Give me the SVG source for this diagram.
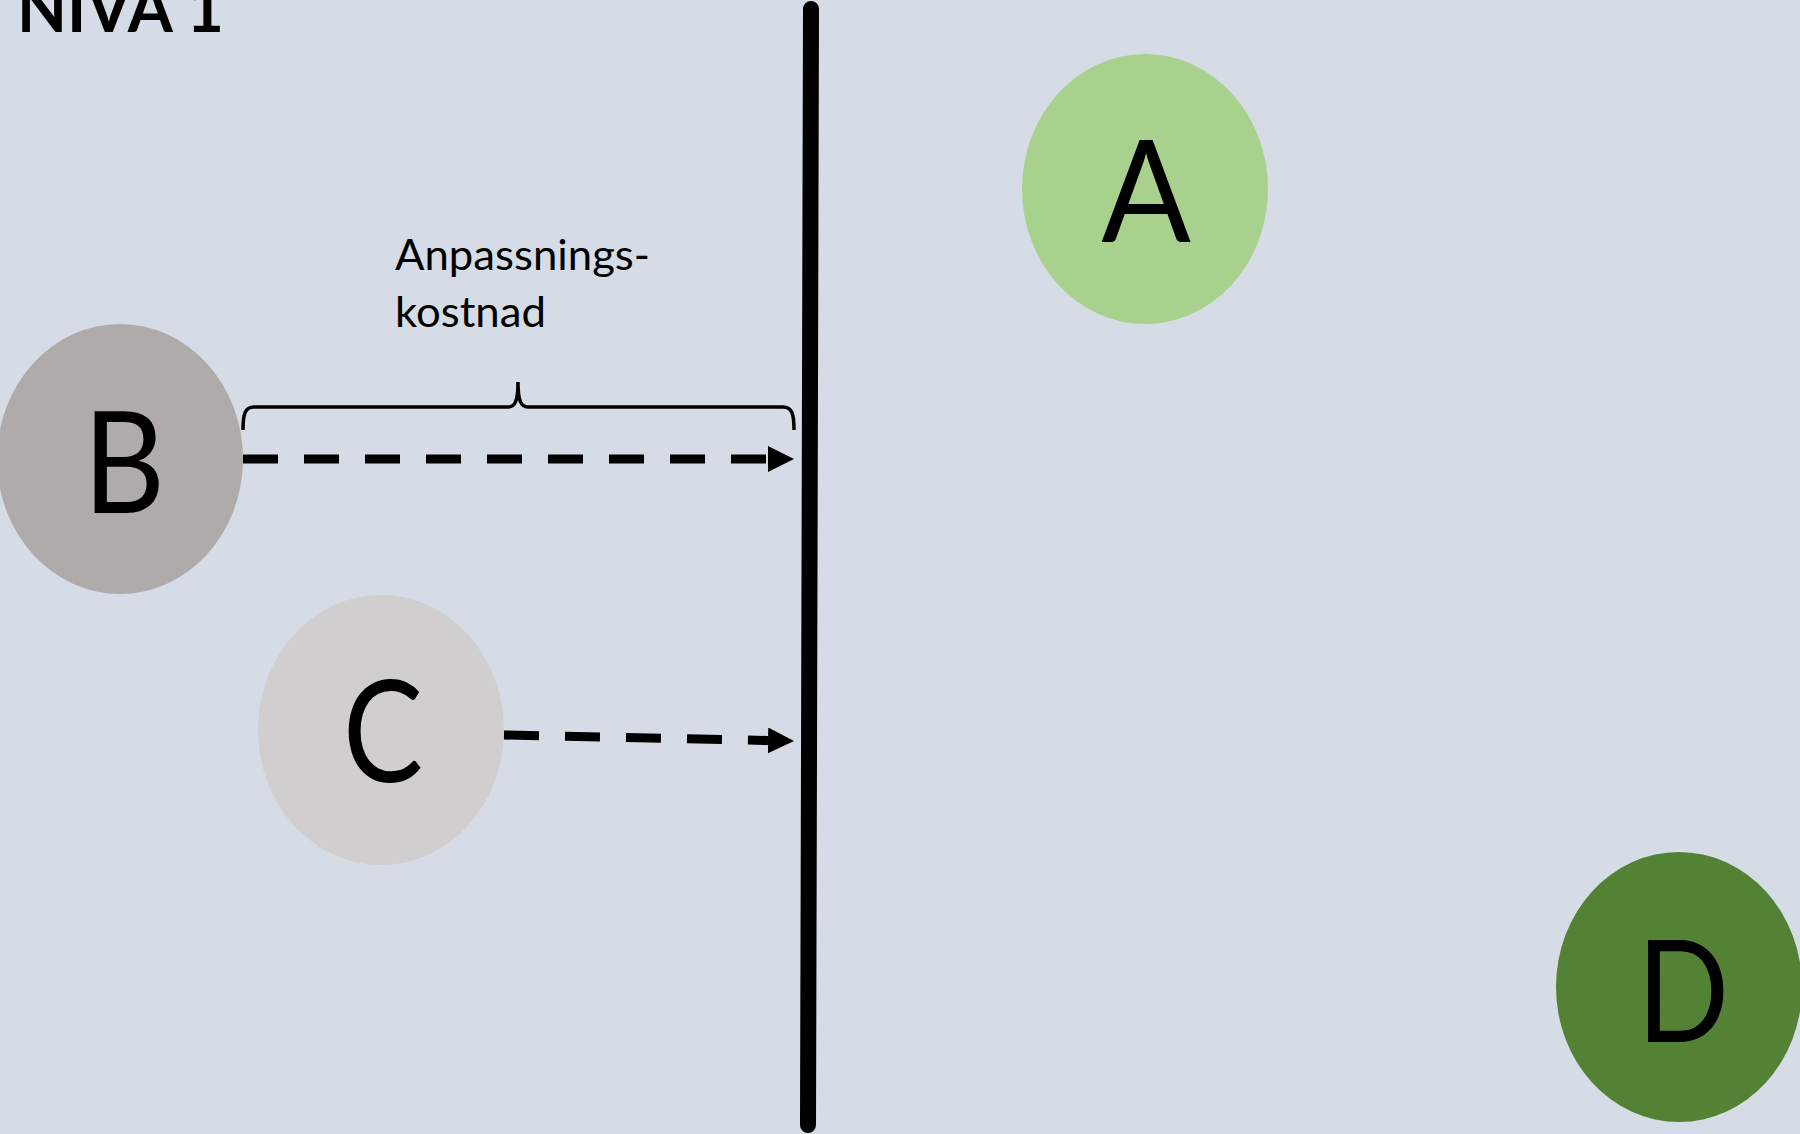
<svg xmlns="http://www.w3.org/2000/svg" width="1800" height="1134" viewBox="0 0 1800 1134">
<style>
.lbl{font-family:Lato,"Liberation Sans",sans-serif;fill:#000}
.big{font-size:141px;text-anchor:middle}
.dash{stroke:#000;stroke-width:9;fill:none;stroke-dasharray:35 26}
</style>
<defs>
<marker id="ah" markerUnits="userSpaceOnUse" markerWidth="26" markerHeight="26" refX="0" refY="13" orient="auto" viewBox="0 0 26 26">
<path d="M0,0 L26,13 L0,26 z" fill="#000"/>
</marker>
</defs>
<rect width="1800" height="1134" fill="#D6DCE5"/>
<text class="lbl" x="17" y="32" font-size="66" font-weight="bold" textLength="207" lengthAdjust="spacingAndGlyphs">NIVA 1</text>
<line id="barrier" x1="811" y1="9" x2="808" y2="1125" stroke="#000" stroke-width="16" stroke-linecap="round"/>
<g id="nodeA">
<ellipse cx="1145" cy="189" rx="123" ry="135" fill="#A9D18E"/>
<text class="lbl big" transform="translate(1146,242) scale(0.94,1)">A</text>
</g>
<g id="nodeB">
<ellipse cx="120" cy="459" rx="123" ry="135" fill="#AFABAB"/>
<text class="lbl big" transform="translate(124,513) scale(0.9,1)">B</text>
</g>
<g id="nodeC">
<ellipse cx="381" cy="730" rx="123" ry="135" fill="#D0CECE"/>
<text class="lbl big" transform="translate(383,782) scale(0.85,1)">C</text>
</g>
<g id="nodeD">
<ellipse cx="1679" cy="987" rx="123" ry="135" fill="#548235"/>
<text class="lbl big" transform="translate(1683,1042) scale(0.86,1)">D</text>
</g>
<g id="connectors">
<line class="dash" x1="243" y1="459" x2="768" y2="459" marker-end="url(#ah)"/>
<line class="dash" x1="504" y1="735" x2="768" y2="740.5" marker-end="url(#ah)"/>
<path d="M243,430 C243,414 245,407 254,407 L508,407 C515,407 518,401 518,382 C518,401 521,407 528,407 L783,407 C792,407 794,414 794,430" fill="none" stroke="#000" stroke-width="3.5"/>
</g>
<g id="label">
<text class="lbl" x="395" y="270" font-size="42" textLength="255" lengthAdjust="spacingAndGlyphs">Anpassnings-</text>
<text class="lbl" x="395" y="327" font-size="42" textLength="151" lengthAdjust="spacingAndGlyphs">kostnad</text>
</g>
</svg>
